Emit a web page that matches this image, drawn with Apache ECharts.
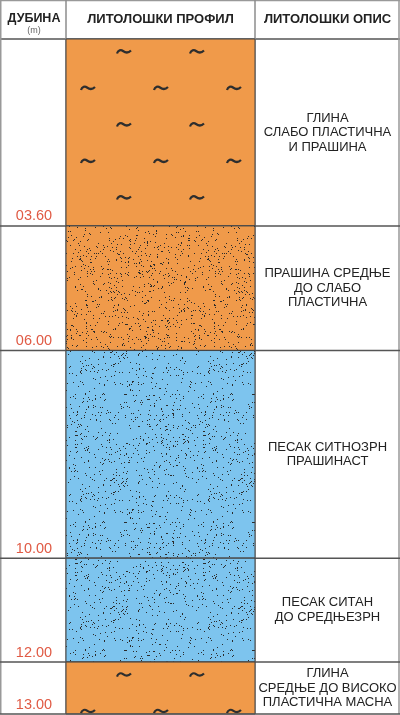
<!DOCTYPE html>
<html>
<head>
<meta charset="utf-8">
<script src="https://cdn.jsdelivr.net/npm/echarts@6/dist/echarts.min.js"></script>
<style>
html, body { margin: 0; padding: 0; background: #fff; }
#main { width: 400px; height: 715px; }
</style>
</head>
<body>
<div id="main"></div>
<script>
// слојеви бушотине (m)
var layerTop = [0, 3.6, 6, 10, 12];
var layerBottom = [3.6, 6, 10, 12, 13];
var depthLabels = ['03.60', '06.00', '10.00', '12.00', '13.00'];
var soilType = ['glina', 'prasina', 'pesak', 'pesak', 'glina'];
var layerDesc = [
    'ГЛИНА\nСЛАБО ПЛАСТИЧНА\nИ ПРАШИНА',
    'ПРАШИНА СРЕДЊЕ\nДО СЛАБО\nПЛАСТИЧНА',
    'ПЕСАК СИТНОЗРН\nПРАШИНАСТ',
    'ПЕСАК СИТАН\nДО СРЕДЊЕЗРН',
    'ГЛИНА\nСРЕДЊЕ ДО ВИСОКО\nПЛАСТИЧНА МАСНА'
];
var headers = ['ЛИТОЛОШКИ ПРОФИЛ', 'ЛИТОЛОШКИ ОПИС'];

var W = 400, H = 715;
var headH = 39, depthW = 66, profW = 189;
var orange = '#f09a4a', blue = '#7dc4ee';

// текстура са тачкицама
function dotPattern(base, density, seed) {
    var size = 128;
    var c = document.createElement('canvas');
    c.width = size; c.height = size;
    var ctx = c.getContext('2d');
    ctx.fillStyle = base;
    ctx.fillRect(0, 0, size, size);
    ctx.fillStyle = '#2b2b2b';
    function rnd() {
        seed |= 0; seed = seed + 0x6D2B79F5 | 0;
        var t = Math.imul(seed ^ seed >>> 15, 1 | seed);
        t = t + Math.imul(t ^ t >>> 7, 61 | t) ^ t;
        return ((t ^ t >>> 14) >>> 0) / 4294967296;
    }
    var n = Math.round(size * size * density);
    for (var k = 0; k < n; k++) {
        ctx.fillRect(Math.floor(rnd() * size), Math.floor(rnd() * size), 1, 1);
    }
    return {image: c, repeat: 'repeat'};
}

var fills = {
    glina: orange,
    prasina: dotPattern(orange, 0.05, 11),
    pesak: dotPattern(blue, 0.04, 29)
};

var tilde = 'M-7,2.5 C-6,-1 -3,-1.5 -1,0 C1,1.5 4,2.5 7,-0.5';

function renderLayer(params, api) {
    var i = params.dataIndex;
    var p0 = api.coord([0, api.value(0)]);
    var p1 = api.coord([1, api.value(1)]);
    var w = api.getWidth();
    var x0 = p0[0], y0 = p0[1], x1 = p1[0], y1 = p1[1];
    var kids = [];
    kids.push({
        type: 'rect',
        shape: {x: x0, y: y0, width: x1 - x0, height: y1 - y0},
        style: {fill: fills[soilType[i]], stroke: '#444', lineWidth: 1}
    });
    if (soilType[i] === 'glina') {
        var row = 0;
        for (var ty = y0 + 12; ty < y1 - 3; ty += 36.5) {
            var xs = row % 2 === 0 ? [58, 131] : [22, 95, 168];
            xs.forEach(function (dx) {
                kids.push({
                    type: 'path', x: x0 + dx, y: ty,
                    shape: {pathData: tilde},
                    style: {fill: null, stroke: '#2e2e2e', lineWidth: 2.2, lineCap: 'butt'}
                });
            });
            row++;
        }
    }
    kids.push({
        type: 'line',
        shape: {x1: 0, y1: y1, x2: w, y2: y1},
        style: {stroke: '#555', lineWidth: 1.5}
    });
    kids.push({
        type: 'text',
        style: {
            text: depthLabels[i], x: x0 / 2 + 1, y: y1 - 2,
            align: 'center', verticalAlign: 'bottom',
            font: '14.5px "Liberation Sans", Arial, sans-serif', fill: '#e05a44'
        }
    });
    kids.push({
        type: 'text',
        style: {
            text: layerDesc[i], x: (x1 + w) / 2, y: (y0 + y1) / 2,
            align: 'center', verticalAlign: 'middle', lineHeight: 14.5,
            font: '13px "Liberation Sans", Arial, sans-serif', fill: '#222'
        }
    });
    return {type: 'group', children: kids};
}

var chart = echarts.init(document.getElementById('main'));
var bold = 'bold 13px "Liberation Sans", Arial, sans-serif';
var option = {
    animation: false,
    grid: {left: depthW, top: headH, width: profW, bottom: 1},
    xAxis: {type: 'value', min: 0, max: 1, show: false},
    yAxis: {type: 'value', min: 0, max: 13, inverse: true, show: false},
    graphic: [
        {type: 'line', shape: {x1: 0, y1: 0.5, x2: W, y2: 0.5}, style: {stroke: '#999', lineWidth: 1.5}},
        {type: 'line', shape: {x1: 0, y1: headH, x2: W, y2: headH}, style: {stroke: '#555', lineWidth: 1.5}},
        {type: 'line', shape: {x1: 0.75, y1: 0, x2: 0.75, y2: H - 1}, style: {stroke: '#999', lineWidth: 1.5}},
        {type: 'line', shape: {x1: depthW, y1: 0, x2: depthW, y2: H - 1}, style: {stroke: '#8c8c8c', lineWidth: 1.5}},
        {type: 'line', shape: {x1: depthW + profW, y1: 0, x2: depthW + profW, y2: H - 1}, style: {stroke: '#8c8c8c', lineWidth: 1.5}},
        {type: 'line', shape: {x1: W - 1, y1: 0, x2: W - 1, y2: H - 1}, style: {stroke: '#999', lineWidth: 1.5}},
        {type: 'text', style: {text: 'ДУБИНА', x: depthW / 2 + 1, y: 19, align: 'center', verticalAlign: 'middle', font: 'bold 12.5px "Liberation Sans", Arial, sans-serif', fill: '#222'}},
        {type: 'text', style: {text: '(m)', x: depthW / 2 + 1, y: 31, align: 'center', verticalAlign: 'middle', font: '9px "Liberation Sans", Arial, sans-serif', fill: '#666'}},
        {type: 'text', style: {text: headers[0], x: depthW + profW / 2, y: 19, align: 'center', verticalAlign: 'middle', font: bold, fill: '#222'}},
        {type: 'text', style: {text: headers[1], x: (depthW + profW + W) / 2, y: 19, align: 'center', verticalAlign: 'middle', font: bold, fill: '#222'}}
    ],
    series: [{
        type: 'custom',
        renderItem: renderLayer,
        data: layerTop.map(function (t, i) { return [t, layerBottom[i], i]; })
    }]
};
chart.setOption(option);
window.onresize = function () { chart.resize(); };
</script>
</body>
</html>
